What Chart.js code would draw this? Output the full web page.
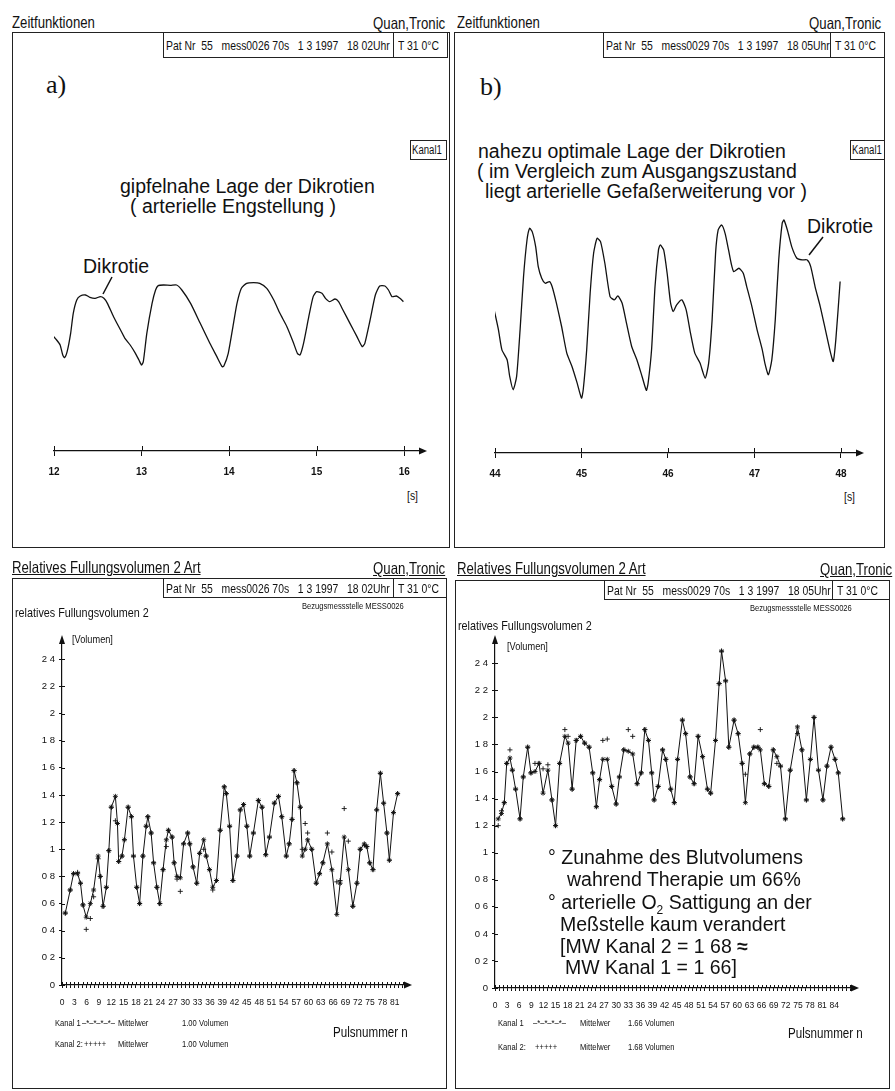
<!DOCTYPE html>
<html>
<head>
<meta charset="utf-8">
<script src="https://cdn.jsdelivr.net/npm/chart.js@4.4.1/dist/chart.umd.min.js"></script>
<style>
  body { margin: 0; background: #fff; }
  #page { position: relative; width: 895px; height: 1091px; overflow: hidden; color: #111; }
  #page div, #page canvas, #page svg { position: absolute; }
  /* printer text: narrow glyphs, squeezed horizontally */
  .p { font-family: "Liberation Sans", Arial, sans-serif; white-space: pre; line-height: 1; transform: scaleX(0.8); transform-origin: left top; }
  .r { transform-origin: right top; }
  .a { font-family: "Liberation Sans", Arial, sans-serif; font-size: 19.5px; white-space: pre; line-height: 1; }
  .frame { border: 1.5px solid #222; box-sizing: border-box; }
  .box { border: 1.5px solid #222; box-sizing: border-box; }
  .u { text-decoration: underline; }
  .lg { font-size: 9.5px; }
</style>
</head>
<body>
<div id="page">
  <!-- panel a -->
  <div class="p" style="left:12px;top:14px;font-size:16.5px">Zeitfunktionen</div>
  <div class="p r" style="right:450px;top:15px;font-size:16.5px">Quan,Tronic</div>
  <div class="frame" style="left:12px;top:32px;width:438px;height:516px"></div>
  <div class="box" style="left:163px;top:32px;width:231px;height:26px"></div>
  <div class="box" style="left:393px;top:32px;width:55px;height:26px"></div>
  <div class="p" style="left:166px;top:39px;font-size:13px">Pat Nr  55   mess0026 70s   1 3 1997   18 02Uhr</div>
  <div class="p" style="left:398px;top:39px;font-size:13px">T 31 0°C</div>
  <div style="left:46px;top:70px;font:26px 'Liberation Serif', serif">a)</div>
  <div class="box" style="left:410px;top:140px;width:37px;height:20px"></div>
  <div class="p" style="left:412px;top:144px;font-size:12px">Kanal1</div>
  <div class="a" style="left:120px;top:177px">gipfelnahe Lage der Dikrotien</div>
  <div class="a" style="left:130px;top:197px">( arterielle Engstellung )</div>
  <div class="a" style="left:83px;top:257px">Dikrotie</div>
  <div class="p" style="left:407px;top:489px;font-size:13px">[s]</div>
  <canvas id="chartA" width="430" height="270" style="left:14px;top:240px"></canvas>

  <!-- panel b -->
  <div class="p" style="left:457px;top:14px;font-size:16.5px">Zeitfunktionen</div>
  <div class="p r" style="right:14px;top:15px;font-size:16.5px">Quan,Tronic</div>
  <div class="frame" style="left:454px;top:32px;width:431px;height:516px"></div>
  <div class="box" style="left:603px;top:32px;width:228px;height:26px"></div>
  <div class="box" style="left:830px;top:32px;width:55px;height:26px"></div>
  <div class="p" style="left:606px;top:39px;font-size:13px">Pat Nr  55   mess0029 70s   1 3 1997   18 05Uhr</div>
  <div class="p" style="left:835px;top:39px;font-size:13px">T 31 0°C</div>
  <div style="left:480px;top:72px;font:26px 'Liberation Serif', serif">b)</div>
  <div class="box" style="left:850px;top:140px;width:35px;height:20px"></div>
  <div class="p" style="left:852px;top:144px;font-size:12px">Kanal1</div>
  <div class="a" style="left:478px;top:142px">nahezu optimale Lage der Dikrotien</div>
  <div class="a" style="left:477px;top:162px">( im Vergleich zum Ausgangszustand</div>
  <div class="a" style="left:485px;top:182px">liegt arterielle Gefaßerweiterung vor )</div>
  <div class="a" style="left:807px;top:217px">Dikrotie</div>
  <div class="p" style="left:844px;top:490px;font-size:13px">[s]</div>
  <canvas id="chartB" width="430" height="310" style="left:458px;top:200px"></canvas>

  <svg width="895" height="1091" style="left:0;top:0">
    <line x1="112" y1="277" x2="103" y2="294" stroke="#111" stroke-width="1.5"/>
    <line x1="823" y1="237" x2="809" y2="255" stroke="#111" stroke-width="1.5"/>
  </svg>

  <!-- panel c -->
  <div class="p u" style="left:12px;top:559px;font-size:16.5px">Relatives Fullungsvolumen 2 Art</div>
  <div class="p u r" style="right:450px;top:560px;font-size:16.5px">Quan,Tronic</div>
  <div class="frame" style="left:12px;top:578px;width:435px;height:511px"></div>
  <div class="box" style="left:163px;top:578px;width:231px;height:20px"></div>
  <div class="box" style="left:393px;top:578px;width:54px;height:20px"></div>
  <div class="p" style="left:166px;top:582px;font-size:13px">Pat Nr  55   mess0026 70s   1 3 1997   18 02Uhr</div>
  <div class="p" style="left:398px;top:582px;font-size:13px">T 31 0°C</div>
  <div class="p" style="left:302px;top:601px;font-size:9.5px">Bezugsmessstelle MESS0026</div>
  <div class="p" style="left:15px;top:606px;font-size:13.5px">relatives Fullungsvolumen 2</div>
  <div class="p" style="left:72px;top:634px;font-size:11.5px">[Volumen]</div>
  <div class="p lg" style="left:55px;top:1018px">Kanal 1</div>
  <div class="p lg" style="left:82px;top:1018px">–*–*–*–*–</div>
  <div class="p lg" style="left:118px;top:1018px">Mittelwer</div>
  <div class="p lg" style="left:182px;top:1018px">1.00 Volumen</div>
  <div class="p lg" style="left:55px;top:1039px">Kanal 2:</div>
  <div class="p lg" style="left:84px;top:1039px">+++++</div>
  <div class="p lg" style="left:118px;top:1039px">Mittelwer</div>
  <div class="p lg" style="left:182px;top:1039px">1.00 Volumen</div>
  <div class="p" style="left:333px;top:1025px;font-size:14.5px">Pulsnummer n</div>
  <canvas id="chartC" width="432" height="400" style="left:14px;top:630px"></canvas>

  <!-- panel d -->
  <div class="p u" style="left:457px;top:560px;font-size:16.5px">Relatives Fullungsvolumen 2 Art</div>
  <div class="p u r" style="right:3px;top:561px;font-size:16.5px">Quan,Tronic</div>
  <div class="frame" style="left:455px;top:580px;width:435px;height:509px"></div>
  <div class="box" style="left:604px;top:580px;width:229px;height:20px"></div>
  <div class="box" style="left:832px;top:580px;width:58px;height:20px"></div>
  <div class="p" style="left:607px;top:584px;font-size:13px">Pat Nr  55   mess0029 70s   1 3 1997   18 05Uhr</div>
  <div class="p" style="left:837px;top:584px;font-size:13px">T 31 0°C</div>
  <div class="p" style="left:750px;top:603px;font-size:9.5px">Bezugsmessstelle MESS0026</div>
  <div class="p" style="left:458px;top:619px;font-size:13.5px">relatives Fullungsvolumen 2</div>
  <div class="p" style="left:507px;top:641px;font-size:11.5px">[Volumen]</div>
  <div class="p lg" style="left:498px;top:1018px">Kanal 1</div>
  <div class="p lg" style="left:533px;top:1018px">–*–*–*–*–</div>
  <div class="p lg" style="left:580px;top:1018px">Mittelwer</div>
  <div class="p lg" style="left:628px;top:1018px">1.66 Volumen</div>
  <div class="p lg" style="left:498px;top:1042px">Kanal 2:</div>
  <div class="p lg" style="left:535px;top:1042px">+++++</div>
  <div class="p lg" style="left:580px;top:1042px">Mittelwer</div>
  <div class="p lg" style="left:628px;top:1042px">1.68 Volumen</div>
  <div class="p" style="left:788px;top:1026px;font-size:14.5px">Pulsnummer n</div>
  <canvas id="chartD" width="440" height="405" style="left:450px;top:630px"></canvas>
  <div class="a" style="left:548px;top:848px">° Zunahme des Blutvolumens</div>
  <div class="a" style="left:567px;top:870px">wahrend Therapie um 66%</div>
  <div class="a" style="left:548px;top:893px">° arterielle O<sub style="font-size:12px">2</sub> Sattigung an der</div>
  <div class="a" style="left:560px;top:915px">Meßstelle kaum verandert</div>
  <div class="a" style="left:560px;top:937px">[MW Kanal 2 = 1 68 <b>≈</b></div>
  <div class="a" style="left:565px;top:958px">MW Kanal 1 = 1 66]</div>
</div>

<script>
// panel a) plethysmogram, seconds 12..16
const timeA = [11.98, 12.03, 12.07, 12.10, 12.12, 12.15, 12.19, 12.22, 12.26, 12.30,
  12.36, 12.41, 12.47, 12.53, 12.57, 12.61, 12.68, 12.76, 12.81, 12.87,
  12.93, 12.97, 13.00, 13.02, 13.06, 13.12, 13.16, 13.19, 13.25, 13.33,
  13.40, 13.46, 13.56, 13.67, 13.78, 13.86, 13.92, 13.94, 13.99, 14.05,
  14.09, 14.14, 14.20, 14.28, 14.35, 14.43, 14.51, 14.58, 14.66, 14.73,
  14.78, 14.81, 14.85, 14.91, 14.96, 15.00, 15.06, 15.10, 15.15, 15.21,
  15.25, 15.30, 15.38, 15.46, 15.52, 15.55, 15.61, 15.67, 15.72, 15.78,
  15.82, 15.86, 15.91, 15.95, 15.99];
const signalA = [3.48, 3.33, 3.18, 2.88, 2.80, 2.98, 3.53, 4.13, 4.53, 4.65,
  4.68, 4.61, 4.58, 4.63, 4.58, 4.43, 4.03, 3.63, 3.38, 3.18,
  2.93, 2.73, 2.58, 2.68, 3.53, 4.43, 4.83, 4.96, 4.98, 4.97,
  4.98, 4.83, 4.43, 3.83, 3.23, 2.83, 2.53, 2.55, 2.93, 3.83,
  4.43, 4.88, 5.03, 5.05, 5.03, 4.88, 4.53, 4.13, 3.73, 3.28,
  2.93, 2.88, 3.23, 4.03, 4.63, 4.78, 4.73, 4.58, 4.48, 4.56,
  4.48, 4.23, 3.83, 3.43, 3.13, 3.23, 3.93, 4.68, 4.95, 4.95,
  4.83, 4.63, 4.65, 4.58, 4.48];

// panel b) plethysmogram, seconds 44..48
const timeB = [43.99, 44.04, 44.08, 44.14, 44.17, 44.21, 44.25, 44.29, 44.33, 44.37,
  44.40, 44.43, 44.47, 44.50, 44.54, 44.58, 44.63, 44.66, 44.71, 44.77,
  44.83, 44.89, 44.95, 45.00, 45.02, 45.06, 45.10, 45.14, 45.18, 45.22,
  45.27, 45.33, 45.38, 45.42, 45.47, 45.52, 45.58, 45.64, 45.70, 45.75,
  45.77, 45.81, 45.85, 45.89, 45.91, 45.95, 45.99, 46.03, 46.06, 46.10,
  46.16, 46.21, 46.26, 46.31, 46.37, 46.43, 46.47, 46.51, 46.55, 46.58,
  46.62, 46.66, 46.70, 46.73, 46.76, 46.82, 46.87, 46.91, 46.97, 47.03,
  47.09, 47.12, 47.16, 47.20, 47.24, 47.28, 47.32, 47.34, 47.38, 47.43,
  47.49, 47.55, 47.61, 47.65, 47.70, 47.76, 47.82, 47.88, 47.91, 47.94,
  47.99];
const signalB = [4.30, 3.70, 3.10, 2.80, 2.30, 1.90, 2.30, 3.70, 5.30, 6.40,
  6.75, 6.65, 6.20, 5.60, 5.25, 5.10, 5.15, 5.00, 4.50, 3.80,
  3.00, 2.60, 2.10, 1.65, 1.90, 3.10, 4.80, 6.00, 6.45, 6.35,
  5.70, 4.70, 4.60, 4.72, 4.50, 3.90, 3.20, 2.80, 2.30, 1.88,
  2.10, 3.10, 5.00, 6.10, 6.25, 6.10, 5.40, 4.50, 4.25, 4.45,
  4.60, 4.30, 3.60, 3.00, 2.70, 2.25, 2.70, 4.00, 6.00, 6.70,
  6.85, 6.60, 6.10, 5.70, 5.45, 5.55, 5.40, 5.00, 4.40, 3.70,
  3.10, 2.70, 2.35, 2.80, 4.00, 5.80, 6.90, 7.00, 6.70, 6.20,
  5.85, 5.80, 5.80, 5.60, 5.00, 4.40, 3.70, 3.00, 2.75, 3.40,
  5.15];

// panel c) relative filling volume per pulse (mess0026)
const pulsesC = [0.8, 2.0, 2.8, 3.8, 4.5, 5.1, 5.9, 6.9, 7.7, 8.8,
  9.3, 10.0, 10.8, 11.4, 12.0, 13.0, 13.5, 13.8, 14.6, 15.2,
  16.1, 16.9, 17.4, 18.2, 18.9, 19.7, 20.5, 20.9, 21.7, 22.3,
  23.1, 23.8, 24.6, 25.4, 25.9, 26.8, 27.3, 28.0, 28.8, 29.6,
  30.6, 31.1, 31.9, 32.8, 33.5, 34.5, 35.1, 35.9, 36.7, 37.6,
  38.5, 39.5, 40.0, 40.8, 41.6, 42.6, 43.4, 44.2, 45.0, 45.7,
  46.6, 47.8, 48.7, 49.6, 50.5, 51.7, 52.7, 53.5, 54.6, 55.3,
  56.0, 56.5, 57.2, 58.0, 58.5, 59.2, 59.8, 60.8, 61.9, 62.7,
  63.5, 64.6, 65.7, 66.9, 67.7, 68.7, 69.7, 70.8, 71.8, 72.6,
  73.6, 74.2, 74.9, 75.7, 76.6, 77.5, 78.3, 79.1, 79.7, 80.7,
  81.7];
const kanal1C = [0.53, 0.70, 0.82, 0.82, 0.75, 0.59, 0.50, 0.60, 0.70, 0.95,
  0.80, 0.58, 0.72, 0.99, 1.31, 1.39, 1.19, 0.91, 0.95, 1.07,
  1.31, 1.24, 0.95, 0.72, 0.60, 0.95, 1.17, 1.24, 1.12, 0.90,
  0.72, 0.60, 0.85, 1.07, 1.14, 1.09, 0.90, 0.80, 0.79, 1.04,
  1.12, 1.04, 0.87, 0.75, 0.97, 1.07, 0.95, 0.85, 0.72, 0.77,
  1.14, 1.46, 1.41, 1.17, 0.77, 0.95, 1.29, 1.33, 1.17, 0.95,
  1.12, 1.36, 1.31, 0.96, 1.09, 1.34, 1.39, 1.24, 0.95, 1.04,
  1.22, 1.58, 1.49, 1.31, 0.95, 1.00, 1.07, 1.00, 0.75, 0.82,
  0.90, 1.04, 0.85, 0.52, 0.75, 1.09, 0.85, 0.58, 0.75, 1.00,
  1.04, 1.02, 0.90, 0.85, 1.29, 1.56, 1.34, 1.12, 0.92, 1.27,
  1.41];
const kanal2C = [0.53, 0.70, 0.82, 0.83, 0.75, 0.59, 0.41, 0.49, 0.65, 0.93,
  0.80, 0.58, 0.72, 0.99, 1.31, 1.21, 1.19, 0.91, 0.95, 1.07,
  1.31, 1.24, 0.95, 0.72, 0.60, 0.95, 1.17, 1.24, 1.12, 0.90,
  0.72, 0.60, 0.85, 1.02, 1.14, 1.09, 0.90, 0.78, 0.69, 1.04,
  1.12, 1.04, 0.87, 0.75, 0.97, 1.00, 0.95, 0.85, 0.70, 0.77,
  1.14, 1.46, 1.41, 1.17, 0.77, 0.95, 1.29, 1.33, 1.17, 0.95,
  1.12, 1.36, 1.31, 0.96, 1.09, 1.34, 1.39, 1.24, 0.95, 1.04,
  1.22, 1.58, 1.49, 1.31, 1.00, 1.19, 1.12, 1.00, 0.75, 0.82,
  0.90, 1.12, 0.98, 0.76, 0.77, 1.30, 1.06, 0.58, 0.75, 1.00,
  1.03, 1.02, 0.90, 0.85, 1.29, 1.56, 1.34, 1.12, 0.92, 1.27,
  1.41];

// panel d) relative filling volume per pulse (mess0029)
const pulsesD = [0.8, 1.6, 2.3, 2.9, 3.7, 4.3, 5.1, 6.2, 7.0, 8.1,
  8.9, 9.9, 10.9, 11.9, 13.1, 14.1, 15.0, 16.0, 17.3, 18.1,
  19.1, 20.1, 21.2, 22.2, 23.3, 24.2, 25.1, 25.9, 26.7, 27.8,
  28.9, 30.0, 30.8, 31.9, 33.0, 34.1, 35.2, 36.2, 37.1, 38.0,
  38.8, 39.4, 40.4, 41.5, 42.3, 43.5, 44.4, 45.2, 46.4, 47.2,
  48.3, 49.3, 50.3, 51.4, 52.6, 53.4, 54.6, 55.5, 56.1, 57.1,
  57.9, 59.2, 60.2, 61.2, 62.0, 63.1, 64.1, 65.1, 65.7, 66.7,
  67.8, 68.9, 69.8, 70.7, 71.9, 73.1, 74.9, 76.0, 77.1, 78.1,
  79.0, 80.1, 81.2, 82.2, 83.2, 84.2, 85.0, 86.1];
const kanal1D = [1.25, 1.29, 1.37, 1.66, 1.70, 1.61, 1.47, 1.25, 1.56, 1.78,
  1.59, 1.60, 1.66, 1.44, 1.61, 1.39, 1.20, 1.66, 1.86, 1.81,
  1.47, 1.83, 1.86, 1.81, 1.78, 1.59, 1.34, 1.54, 1.69, 1.69,
  1.49, 1.36, 1.56, 1.76, 1.75, 1.73, 1.51, 1.59, 1.91, 1.83,
  1.59, 1.39, 1.49, 1.76, 1.69, 1.47, 1.37, 1.69, 1.98, 1.88,
  1.56, 1.51, 1.86, 1.71, 1.47, 1.44, 1.83, 2.25, 2.49, 2.27,
  1.78, 1.98, 1.88, 1.66, 1.37, 1.73, 1.78, 1.78, 1.76, 1.51,
  1.49, 1.76, 1.71, 1.64, 1.25, 1.61, 1.93, 1.76, 1.39, 1.69,
  2.00, 1.61, 1.39, 1.64, 1.78, 1.69, 1.59, 1.25];
const kanal2D = [1.20, 1.31, 1.37, 1.66, 1.76, 1.61, 1.47, 1.25, 1.56, 1.78,
  1.59, 1.66, 1.66, 1.62, 1.65, 1.39, 1.20, 1.66, 1.91, 1.86,
  1.47, 1.83, 1.86, 1.81, 1.78, 1.59, 1.34, 1.54, 1.83, 1.84,
  1.49, 1.36, 1.56, 1.76, 1.91, 1.86, 1.51, 1.59, 1.91, 1.83,
  1.59, 1.39, 1.49, 1.76, 1.69, 1.47, 1.37, 1.69, 1.98, 1.88,
  1.56, 1.51, 1.86, 1.71, 1.47, 1.44, 1.83, 2.25, 2.49, 2.27,
  1.78, 1.98, 1.88, 1.66, 1.58, 1.73, 1.78, 1.78, 1.91, 1.51,
  1.49, 1.76, 1.66, 1.64, 1.25, 1.61, 1.88, 1.76, 1.39, 1.69,
  2.00, 1.61, 1.39, 1.64, 1.78, 1.69, 1.59, 1.25];

// last labelled pulse number on each printout
const lastLabelC = 81;
const lastLabelD = 84;

const INK = '#111';
const tickFont = '"Liberation Sans", Arial, sans-serif';

// arrow heads at the axis ends, and tick marks crossing the axis line
const axisArrows = {
  id: 'axisArrows',
  afterDraw(chart, args, opts) {
    const { ctx, chartArea } = chart;
    const { left, right, top, bottom } = chartArea;
    const xs = chart.scales.x;
    const ys = chart.scales.y;
    ctx.save();
    ctx.fillStyle = INK;
    ctx.strokeStyle = INK;
    ctx.lineWidth = 1;
    ctx.beginPath();
    ctx.moveTo(right + 7, bottom);
    ctx.lineTo(right - 1, bottom - 3.5);
    ctx.lineTo(right - 1, bottom + 3.5);
    ctx.closePath();
    ctx.fill();
    ctx.beginPath();
    xs.ticks.forEach(t => {
      const px = Math.round(xs.getPixelForValue(t.value)) + 0.5;
      ctx.moveTo(px, bottom);
      ctx.lineTo(px, bottom - opts.tick);
    });
    if (opts.yArrow) {
      ys.ticks.forEach(t => {
        const py = Math.round(ys.getPixelForValue(t.value)) + 0.5;
        ctx.moveTo(left, py);
        ctx.lineTo(left + opts.tick, py);
      });
    }
    ctx.stroke();
    if (opts.yArrow) {
      ctx.beginPath();
      ctx.moveTo(left, top - 8);
      ctx.lineTo(left - 3, top + 1);
      ctx.lineTo(left + 3, top + 1);
      ctx.closePath();
      ctx.fill();
    }
    ctx.restore();
  }
};

function zip(xs, ys) {
  return xs.map((x, i) => ({ x: x, y: ys[i] }));
}

function timeChart(id, xs, ys, xMin, xMax, yMax, padding) {
  return new Chart(document.getElementById(id), {
    type: 'line',
    data: {
      datasets: [{
        data: zip(xs, ys),
        borderColor: INK,
        borderWidth: 1.3,
        pointRadius: 0,
        tension: 0.2
      }]
    },
    plugins: [axisArrows],
    options: {
      responsive: false,
      animation: false,
      layout: { padding: padding },
      plugins: {
        legend: { display: false },
        tooltip: { enabled: false },
        axisArrows: { yArrow: false, tick: 5 }
      },
      scales: {
        x: {
          type: 'linear',
          min: xMin,
          max: xMax,
          afterFit: s => { s.height = 40; },
          border: { color: INK, width: 1.3 },
          grid: { drawOnChartArea: false, color: INK, tickLength: 5, lineWidth: 1 },
          ticks: {
            stepSize: 1,
            includeBounds: false,
            maxRotation: 0,
            padding: 10,
            color: INK,
            font: { family: tickFont, size: 10, weight: 'bold' }
          }
        },
        y: { display: false, min: 0, max: yMax }
      }
    }
  });
}

function volumeChart(id, pulses, k1, k2, xMax, lastLabel, yMax, yWidth, padding) {
  return new Chart(document.getElementById(id), {
    type: 'line',
    data: {
      datasets: [
        {
          label: 'Kanal 1',
          data: zip(pulses, k1),
          borderColor: INK,
          borderWidth: 1,
          pointStyle: 'star',
          pointRadius: 2.5,
          pointBorderColor: INK,
          pointBorderWidth: 0.9
        },
        {
          label: 'Kanal 2',
          data: zip(pulses, k2),
          showLine: false,
          pointStyle: 'cross',
          pointRadius: 2.5,
          pointBorderColor: INK,
          pointBorderWidth: 0.9
        }
      ]
    },
    plugins: [axisArrows],
    options: {
      responsive: false,
      animation: false,
      layout: { padding: padding },
      plugins: {
        legend: { display: false },
        tooltip: { enabled: false },
        axisArrows: { yArrow: true, tick: 3 }
      },
      scales: {
        x: {
          type: 'linear',
          min: 0,
          max: xMax,
          afterFit: s => { s.height = 30; },
          border: { color: INK, width: 1.2 },
          grid: { drawOnChartArea: false, color: INK, tickLength: 3 },
          ticks: {
            stepSize: 1,
            maxTicksLimit: 100,
            autoSkip: false,
            includeBounds: false,
            maxRotation: 0,
            minRotation: 0,
            padding: 10,
            color: INK,
            font: { family: tickFont, size: 8.5 },
            callback: v => (v % 3 === 0 && v <= lastLabel ? String(v) : '')
          }
        },
        y: {
          min: 0,
          max: yMax,
          afterFit: s => { s.width = yWidth; },
          border: { color: INK, width: 1.2 },
          grid: { drawOnChartArea: false, color: INK, tickLength: 3 },
          ticks: {
            stepSize: 0.2,
            includeBounds: false,
            padding: 4,
            color: INK,
            font: { family: tickFont, size: 9.5 },
            // the decimal point is lost on the printout: "2 4", "1 8" ...
            callback: v => String(Math.round(v * 10) / 10).replace('.', ' ')
          }
        }
      }
    }
  });
}

timeChart('chartA', timeA, signalA, 12, 16.18, 6.0, { left: 40, right: 24, top: 11, bottom: 19 });
timeChart('chartB', timeB, signalB, 44, 48.185, 7.3, { left: 37, right: 31, top: 10, bottom: 17 });
volumeChart('chartC', pulsesC, kanal1C, kanal2C, 83.5, lastLabelC, 2.52, 48, { left: 0, right: 41, top: 13, bottom: 15 });
volumeChart('chartD', pulsesD, kanal1D, kanal2D, 88.4, lastLabelD, 2.55, 45, { left: 0, right: 38, top: 13, bottom: 17 });
</script>
</body>
</html>
